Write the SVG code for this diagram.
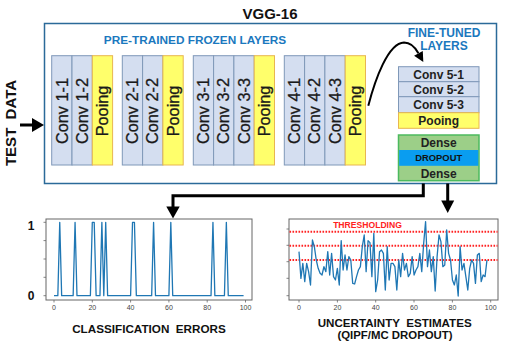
<svg xmlns="http://www.w3.org/2000/svg" width="505" height="344" viewBox="0 0 505 344">
<style>
text{font-family:"Liberation Sans",Arial,sans-serif}
.conv{fill:#d4def0;stroke:#7f98b8;stroke-width:1}
.pool{fill:#ffff6b;stroke:#e8b650;stroke-width:1}
.vt{font-size:16.3px;fill:#1a1a1a;stroke:#1a1a1a;stroke-width:0.3;text-anchor:middle}
.ft{font-size:12px;font-weight:bold;fill:#222;text-anchor:middle}
.blue{fill:#1b78be;font-weight:bold;text-anchor:middle}
.lbl{font-weight:bold;fill:#111;text-anchor:middle}
.frame{fill:#fff;stroke:#666;stroke-width:1}
.tick{stroke:#666;stroke-width:0.8}
.tl{font-size:7px;fill:#444;text-anchor:middle}
.series{fill:none;stroke:#1f77b4;stroke-width:1.3;vector-effect:non-scaling-stroke;stroke-linejoin:round}
.conn{fill:none;stroke:#000;stroke-width:3}
.thr{stroke:#ff2222;stroke-width:2;stroke-dasharray:1.6 1.4}
</style>
<rect width="505" height="344" fill="#fff"/>
<text x="270" y="19" class="lbl" font-size="15">VGG-16</text>
<g id="vgg-box">
<rect x="44.5" y="23.5" width="452" height="160" fill="#fff" stroke="#2b6a99" stroke-width="1.5"/>
<text x="195" y="43.5" class="blue" font-size="11.8">PRE-TRAINED FROZEN LAYERS</text>
<text x="444" y="36.5" class="blue" font-size="12">FINE-TUNED</text>
<text x="444" y="49.5" class="blue" font-size="12">LAYERS</text>
</g>
<g id="test-data">
<text transform="translate(16 123) rotate(-90)" x="0" y="0" class="lbl" font-size="15" xml:space="preserve">TEST  DATA</text>
</g>
<g id="block1">
<rect class="conv" x="51.7" y="55.7" width="20.3" height="109.3"/>
<rect class="conv" x="72" y="55.7" width="20.3" height="109.3"/>
<rect class="pool" x="92.3" y="55.7" width="20.3" height="109.3"/>
<text class="vt" transform="translate(61.9 111) rotate(-90)" y="5.6">Conv 1-1</text>
<text class="vt" transform="translate(82.2 111) rotate(-90)" y="5.6">Conv 1-2</text>
<text class="vt" transform="translate(102.5 111) rotate(-90)" y="5.6">Pooing</text>
</g>
<g id="block2">
<rect class="conv" x="122.3" y="55.7" width="20.3" height="109.3"/>
<rect class="conv" x="142.6" y="55.7" width="20.3" height="109.3"/>
<rect class="pool" x="162.9" y="55.7" width="20.3" height="109.3"/>
<text class="vt" transform="translate(132.5 111) rotate(-90)" y="5.6">Conv 2-1</text>
<text class="vt" transform="translate(152.8 111) rotate(-90)" y="5.6">Conv 2-2</text>
<text class="vt" transform="translate(173.1 111) rotate(-90)" y="5.6">Pooing</text>
</g>
<g id="block3">
<rect class="conv" x="193.3" y="55.7" width="20.3" height="109.3"/>
<rect class="conv" x="213.6" y="55.7" width="20.3" height="109.3"/>
<rect class="conv" x="233.9" y="55.7" width="20.3" height="109.3"/>
<rect class="pool" x="254.2" y="55.7" width="20.3" height="109.3"/>
<text class="vt" transform="translate(203.5 111) rotate(-90)" y="5.6">Conv 3-1</text>
<text class="vt" transform="translate(223.8 111) rotate(-90)" y="5.6">Conv 3-2</text>
<text class="vt" transform="translate(244.1 111) rotate(-90)" y="5.6">Conv 3-3</text>
<text class="vt" transform="translate(264.4 111) rotate(-90)" y="5.6">Pooing</text>
</g>
<g id="block4">
<rect class="conv" x="284.3" y="55.7" width="20.3" height="109.3"/>
<rect class="conv" x="304.6" y="55.7" width="20.3" height="109.3"/>
<rect class="conv" x="324.9" y="55.7" width="20.3" height="109.3"/>
<rect class="pool" x="345.2" y="55.7" width="20.3" height="109.3"/>
<text class="vt" transform="translate(294.5 111) rotate(-90)" y="5.6">Conv 4-1</text>
<text class="vt" transform="translate(314.8 111) rotate(-90)" y="5.6">Conv 4-2</text>
<text class="vt" transform="translate(335.1 111) rotate(-90)" y="5.6">Conv 4-3</text>
<text class="vt" transform="translate(355.4 111) rotate(-90)" y="5.6">Pooing</text>
</g>
<g id="block5">
<rect class="conv" x="398.5" y="66.7" width="80.5" height="15"/>
<rect class="conv" x="398.5" y="81.7" width="80.5" height="15"/>
<rect class="conv" x="398.5" y="96.7" width="80.5" height="16"/>
<rect class="pool" x="398.5" y="112.7" width="80.5" height="15.6"/>
<text class="ft" x="438.7" y="78.6">Conv 5-1</text>
<text class="ft" x="438.7" y="93.6">Conv 5-2</text>
<text class="ft" x="438.7" y="109">Conv 5-3</text>
<text class="ft" x="438.7" y="124.6">Pooing</text>
</g>
<g id="dense">
<rect x="398.5" y="135" width="80.5" height="45.7" fill="#9ccf88" stroke="#4cba5e" stroke-width="1.5"/>
<rect x="399.2" y="150" width="79.1" height="15.8" fill="#0a9df0"/>
<text class="ft" x="438.7" y="146.8">Dense</text>
<text x="438.7" y="161.2" font-size="9.4" font-weight="bold" fill="#111" text-anchor="middle">DROPOUT</text>
<text class="ft" x="438.7" y="177.8">Dense</text>
</g>
<g id="connectors">
<line x1="20" y1="125" x2="33" y2="125" stroke="#000" stroke-width="3"/>
<polygon points="32,118 44,125 32,132" fill="#000"/>
<path d="M368.3,105.7 C375,80 388,43 404,42.5 C411,42.5 415,47 418.4,53.3" fill="none" stroke="#000" stroke-width="2"/>
<polygon points="423.3,62 414.1,55.8 422.8,50.9" fill="#000"/>
<path class="conn" d="M423.3,183.5 V195.7 H173 V207.5"/>
<polygon points="166.3,206.5 179.7,206.5 173,218.5" fill="#000"/>
<path class="conn" d="M447.7,183.5 V201.5"/>
<polygon points="441.2,200.5 454.2,200.5 447.7,213" fill="#000"/>
</g>
<g id="plot-classification">
<rect class="frame" x="46" y="219" width="206" height="81"/>
<g class="tick">
<line x1="43.5" y1="222.3" x2="46" y2="222.3"/><line x1="43.5" y1="240.6" x2="46" y2="240.6"/><line x1="43.5" y1="259" x2="46" y2="259"/><line x1="43.5" y1="277.3" x2="46" y2="277.3"/><line x1="43.5" y1="295.7" x2="46" y2="295.7"/>
<line x1="54" y1="300" x2="54" y2="302.5"/><line x1="92.3" y1="300" x2="92.3" y2="302.5"/><line x1="130.6" y1="300" x2="130.6" y2="302.5"/><line x1="168.9" y1="300" x2="168.9" y2="302.5"/><line x1="207.2" y1="300" x2="207.2" y2="302.5"/><line x1="245.5" y1="300" x2="245.5" y2="302.5"/>
</g>
<text class="tl" x="54" y="310">0</text><text class="tl" x="92.3" y="310">20</text><text class="tl" x="130.6" y="310">40</text><text class="tl" x="168.9" y="310">60</text><text class="tl" x="207.2" y="310">80</text><text class="tl" x="245.5" y="310">100</text>
<text x="31" y="230" class="lbl" font-size="12">1</text>
<text x="31" y="300" class="lbl" font-size="12">0</text>
<path class="series" transform="translate(54 295.7) scale(1.915 -73.4)" d="M0,0 L2,0 L3,1 L4,0 L10,0 L11,1 L12,0 L19,0 L20,1 L21,1 L22,0 L24,0 L25,1 L26,0 L27,1 L28,0 L40,0 L41,1 L42,1 L43,0 L51,0 L52,1 L53,0 L60,0 L61,1 L62,0 L82,0 L83,1 L84,0 L89,0 L90,1 L91,0 L99,0"/>
<text x="149" y="332.5" class="lbl" font-size="11.7" xml:space="preserve">CLASSIFICATION  ERRORS</text>
</g>
<g id="plot-uncertainty">
<rect class="frame" x="289" y="219" width="209" height="81"/>
<g class="tick">
<line x1="286.5" y1="229" x2="289" y2="229"/><line x1="286.5" y1="245.3" x2="289" y2="245.3"/><line x1="286.5" y1="261.7" x2="289" y2="261.7"/><line x1="286.5" y1="278.3" x2="289" y2="278.3"/><line x1="286.5" y1="295.7" x2="289" y2="295.7"/>
<line x1="299" y1="300" x2="299" y2="302.5"/><line x1="337.4" y1="300" x2="337.4" y2="302.5"/><line x1="375.7" y1="300" x2="375.7" y2="302.5"/><line x1="414" y1="300" x2="414" y2="302.5"/><line x1="452.4" y1="300" x2="452.4" y2="302.5"/><line x1="490.7" y1="300" x2="490.7" y2="302.5"/>
</g>
<text class="tl" x="299" y="310">0</text><text class="tl" x="337.4" y="310">20</text><text class="tl" x="375.7" y="310">40</text><text class="tl" x="414" y="310">60</text><text class="tl" x="452.4" y="310">80</text><text class="tl" x="490.7" y="310">100</text>
<line class="thr" x1="289.5" y1="231.7" x2="497.5" y2="231.7"/>
<line class="thr" x1="289.5" y1="245.7" x2="497.5" y2="245.7"/>
<line class="thr" x1="289.5" y1="260" x2="497.5" y2="260"/>
<text x="367.5" y="228" font-size="8.6" font-weight="bold" fill="#ff2222" text-anchor="middle">THRESHOLDING</text>
<path class="series" transform="translate(299 210) scale(1.918 0.33333)" d="M0,125 L1,205 L2,160 L3,215 L4,160 L5,185 L6,225 L7,90 L8,110 L9,150 L10,175 L11,190 L12,195 L13,170 L14,185 L15,125 L16,195 L17,130 L18,200 L19,210 L20,175 L21,225 L22,92 L23,180 L24,135 L25,180 L26,140 L27,150 L28,220 L29,222 L30,200 L31,180 L32,170 L33,110 L34,75 L35,185 L36,92 L37,98 L38,200 L39,70 L40,245 L41,210 L42,125 L43,120 L44,130 L45,240 L46,110 L47,210 L48,160 L49,160 L50,170 L51,240 L52,150 L53,200 L54,130 L55,180 L56,160 L57,200 L58,190 L59,140 L60,195 L61,180 L62,170 L63,130 L64,185 L65,100 L66,35 L67,170 L68,120 L69,185 L70,140 L71,243 L72,140 L73,75 L74,95 L75,170 L76,165 L77,60 L78,130 L79,150 L80,210 L81,225 L82,195 L83,258 L84,110 L85,180 L86,160 L87,200 L88,240 L89,175 L90,150 L91,160 L92,220 L93,135 L94,130 L95,215 L96,195 L97,200 L98,150"/>
<text x="394.7" y="326.5" class="lbl" font-size="11.6" xml:space="preserve">UNCERTAINTY  ESTIMATES</text>
<text x="395" y="339" class="lbl" font-size="11.4">(QIPF/MC DROPOUT)</text>
</g>
</svg>
